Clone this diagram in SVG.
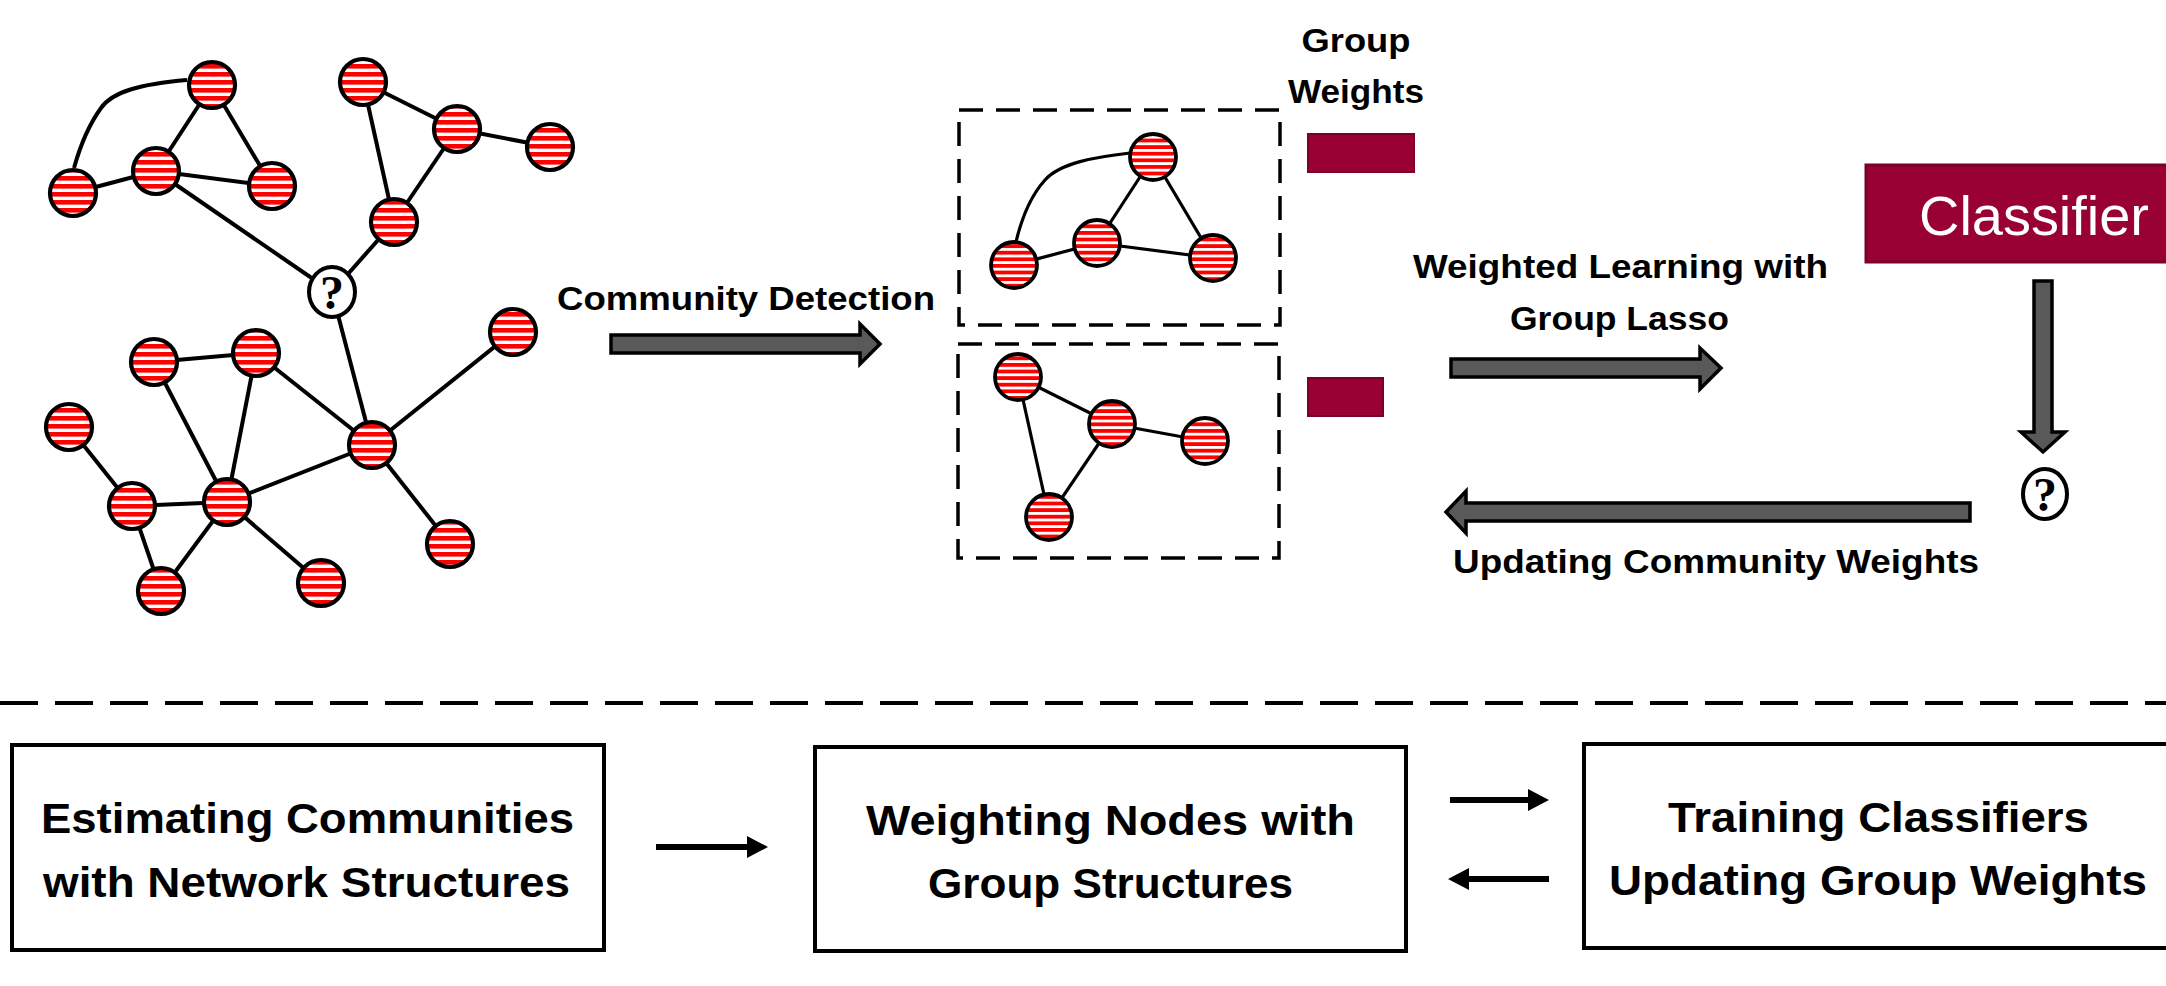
<svg xmlns="http://www.w3.org/2000/svg" width="2166" height="986" viewBox="0 0 2166 986">
  <defs>
    <pattern id="stripes" patternUnits="userSpaceOnUse" width="8" height="8">
      <rect width="8" height="8" fill="#ffffff"/>
      <rect width="8" height="4.6" fill="#ff0000"/>
    </pattern>
    <pattern id="stripes-sm" patternUnits="userSpaceOnUse" width="8" height="6.6">
      <rect width="8" height="6.6" fill="#ffffff"/>
      <rect width="8" height="3.8" fill="#ff0000"/>
    </pattern>
  </defs>
  <style>
    .node { fill: url(#stripes); stroke: #000; stroke-width: 4.2; }
    .node-sm { fill: url(#stripes-sm); stroke: #000; stroke-width: 3.8; }
    .unk { fill: #fff; stroke: #000; stroke-width: 4; }
    .qm { font-family: "Liberation Serif", serif; font-weight: bold; font-size: 48px; text-anchor: middle; fill: #000; }
    .edge { stroke: #000; stroke-width: 4; fill: none; }
    .edge-sm { stroke: #000; stroke-width: 3.2; fill: none; }
    .dbox { fill: none; stroke: #000; stroke-width: 3.5; stroke-dasharray: 24 13; }
    .block { fill: #595959; stroke: #000; stroke-width: 3.5; stroke-linejoin: miter; }
    .weight { fill: #990033; stroke: #7a0026; stroke-width: 2; }
    .lbl { font-family: "Liberation Sans", Arial, sans-serif; font-weight: bold; font-size: 34px; fill: #000; }
    .step { fill: #fff; stroke: #000; stroke-width: 4; }
    .steptxt { font-family: "Liberation Sans", Arial, sans-serif; font-weight: bold; font-size: 43px; fill: #000; }
    .small-arrow { fill: #000; }
  </style>

  <!-- edges of the full network -->
  <g id="connectors">
    <path class="edge" d="M187,80 C140,84 112,92 101,108 C88,126 79,150 74,168"/>
    <line class="edge" x1="73" y1="193" x2="156" y2="171"/>
    <line class="edge" x1="156" y1="171" x2="212" y2="85"/>
    <line class="edge" x1="212" y1="85" x2="272" y2="186"/>
    <line class="edge" x1="156" y1="171" x2="272" y2="186"/>
    <line class="edge" x1="156" y1="171" x2="332" y2="292"/>
    <line class="edge" x1="363" y1="82" x2="457" y2="129"/>
    <line class="edge" x1="363" y1="82" x2="394" y2="222"/>
    <line class="edge" x1="457" y1="129" x2="550" y2="147"/>
    <line class="edge" x1="457" y1="129" x2="394" y2="222"/>
    <line class="edge" x1="394" y1="222" x2="332" y2="292"/>
    <line class="edge" x1="332" y1="292" x2="372" y2="445"/>
    <line class="edge" x1="154" y1="362" x2="256" y2="353"/>
    <line class="edge" x1="154" y1="362" x2="227" y2="502"/>
    <line class="edge" x1="256" y1="353" x2="227" y2="502"/>
    <line class="edge" x1="256" y1="353" x2="372" y2="445"/>
    <line class="edge" x1="372" y1="445" x2="513" y2="332"/>
    <line class="edge" x1="372" y1="445" x2="227" y2="502"/>
    <line class="edge" x1="372" y1="445" x2="450" y2="544"/>
    <line class="edge" x1="69" y1="427" x2="132" y2="506"/>
    <line class="edge" x1="132" y1="506" x2="227" y2="502"/>
    <line class="edge" x1="132" y1="506" x2="161" y2="591"/>
    <line class="edge" x1="161" y1="591" x2="227" y2="502"/>
    <line class="edge" x1="227" y1="502" x2="321" y2="583"/>

    <!-- edges inside the community boxes -->
    <path class="edge-sm" d="M1130,153 C1095,157 1060,163 1045,180 C1027,200 1020,225 1016,242"/>
    <line class="edge-sm" x1="1014" y1="265" x2="1097" y2="243"/>
    <line class="edge-sm" x1="1097" y1="243" x2="1153" y2="157"/>
    <line class="edge-sm" x1="1153" y1="157" x2="1213" y2="258"/>
    <line class="edge-sm" x1="1097" y1="243" x2="1213" y2="258"/>
    <line class="edge-sm" x1="1018" y1="377" x2="1112" y2="424"/>
    <line class="edge-sm" x1="1018" y1="377" x2="1049" y2="517"/>
    <line class="edge-sm" x1="1112" y1="424" x2="1205" y2="441"/>
    <line class="edge-sm" x1="1112" y1="424" x2="1049" y2="517"/>

    <!-- process arrows -->
    <path class="block" d="M611,335 H860 V324 L880,344 L860,364 V353 H611 Z"/>
    <path class="block" d="M1451,359 H1700 V348 L1721,368 L1700,389 V377 H1451 Z"/>
    <path class="block" d="M2034,281 V432 H2021 L2043,452 L2065,432 H2052 V281 Z"/>
    <path class="block" d="M1970,503 H1466 V491 L1446,512 L1466,533 V521 H1970 Z"/>

    <!-- arrows between the summary steps -->
    <path class="small-arrow" d="M656,844 H747 V836 L768,847 L747,858 V850 H656 Z"/>
    <path class="small-arrow" d="M1450,797 H1528 V789 L1549,800 L1528,811 V803 H1450 Z"/>
    <path class="small-arrow" d="M1549,876 H1469 V868 L1448,879 L1469,890 V882 H1549 Z"/>
  </g>

  <!-- full network nodes -->
  <g id="network">
    <circle id="n-a" class="node" cx="212" cy="85" r="23"/>
    <circle id="n-b" class="node" cx="73" cy="193" r="23"/>
    <circle id="n-c" class="node" cx="156" cy="171" r="23"/>
    <circle id="n-d" class="node" cx="272" cy="186" r="23"/>
    <circle id="n-e" class="node" cx="363" cy="82" r="23"/>
    <circle id="n-f" class="node" cx="457" cy="129" r="23"/>
    <circle id="n-g" class="node" cx="550" cy="147" r="23"/>
    <circle id="n-h" class="node" cx="394" cy="222" r="23"/>
    <circle id="n-1" class="node" cx="154" cy="362" r="23"/>
    <circle id="n-2" class="node" cx="256" cy="353" r="23"/>
    <circle id="n-3" class="node" cx="69" cy="427" r="23"/>
    <circle id="n-4" class="node" cx="372" cy="445" r="23"/>
    <circle id="n-5" class="node" cx="513" cy="332" r="23"/>
    <circle id="n-6" class="node" cx="132" cy="506" r="23"/>
    <circle id="n-7" class="node" cx="227" cy="502" r="23"/>
    <circle id="n-8" class="node" cx="450" cy="544" r="23"/>
    <circle id="n-9" class="node" cx="161" cy="591" r="23"/>
    <circle id="n-10" class="node" cx="321" cy="583" r="23"/>
    <g id="n-unknown">
      <ellipse class="unk" cx="332" cy="292" rx="23" ry="25"/>
      <text class="qm" x="332" y="309">?</text>
    </g>
  </g>

  <g id="community-1">
    <rect class="dbox" x="959" y="110" width="321" height="215"/>
    <circle class="node-sm" cx="1153" cy="157" r="23"/>
    <circle class="node-sm" cx="1014" cy="265" r="23"/>
    <circle class="node-sm" cx="1097" cy="243" r="23"/>
    <circle class="node-sm" cx="1213" cy="258" r="23"/>
  </g>

  <g id="community-2">
    <rect class="dbox" x="958" y="344" width="321" height="214"/>
    <circle class="node-sm" cx="1018" cy="377" r="23"/>
    <circle class="node-sm" cx="1112" cy="424" r="23"/>
    <circle class="node-sm" cx="1205" cy="441" r="23"/>
    <circle class="node-sm" cx="1049" cy="517" r="23"/>
  </g>

  <g id="group-weights">
    <text class="lbl" x="1356" y="52" text-anchor="middle" font-size="32" textLength="109" lengthAdjust="spacingAndGlyphs">Group</text>
    <text class="lbl" x="1356" y="103" text-anchor="middle" font-size="32" textLength="136" lengthAdjust="spacingAndGlyphs">Weights</text>
    <rect class="weight" x="1308" y="134" width="106" height="38"/>
    <rect class="weight" x="1308" y="378" width="75" height="38"/>
  </g>

  <g id="labels">
    <text class="lbl" x="557" y="310" textLength="378" lengthAdjust="spacingAndGlyphs">Community Detection</text>
    <text class="lbl" x="1413" y="278" textLength="415" lengthAdjust="spacingAndGlyphs">Weighted Learning with</text>
    <text class="lbl" x="1510" y="330" textLength="219" lengthAdjust="spacingAndGlyphs">Group Lasso</text>
    <text class="lbl" x="1453" y="573" textLength="526" lengthAdjust="spacingAndGlyphs">Updating Community Weights</text>
  </g>

  <g id="classifier">
    <rect x="1866" y="165" width="310" height="97" fill="#990033" stroke="#7a0026" stroke-width="3"/>
    <text x="1919" y="235" font-family="'Liberation Sans', Arial, sans-serif" font-size="56" fill="#fff" textLength="230" lengthAdjust="spacingAndGlyphs">Classifier</text>
  </g>

  <g id="prediction">
    <ellipse class="unk" cx="2045" cy="494" rx="22" ry="25"/>
    <text class="qm" x="2045" y="511">?</text>
  </g>

  <line x1="0" y1="703" x2="2166" y2="703" stroke="#000" stroke-width="4" stroke-dasharray="38 17"/>

  <g id="step-estimate">
    <rect class="step" x="12" y="745" width="592" height="205"/>
    <text class="steptxt" x="41" y="833" textLength="533" lengthAdjust="spacingAndGlyphs">Estimating Communities</text>
    <text class="steptxt" x="43" y="897" textLength="527" lengthAdjust="spacingAndGlyphs">with Network Structures</text>
  </g>

  <g id="step-weight">
    <rect class="step" x="815" y="747" width="591" height="204"/>
    <text class="steptxt" x="866" y="835" textLength="489" lengthAdjust="spacingAndGlyphs">Weighting Nodes with</text>
    <text class="steptxt" x="928" y="898" textLength="365" lengthAdjust="spacingAndGlyphs">Group Structures</text>
  </g>

  <g id="step-train">
    <rect class="step" x="1584" y="744" width="600" height="204"/>
    <text class="steptxt" x="1668" y="832" textLength="421" lengthAdjust="spacingAndGlyphs">Training Classifiers</text>
    <text class="steptxt" x="1609" y="895" textLength="538" lengthAdjust="spacingAndGlyphs">Updating Group Weights</text>
  </g>
</svg>
